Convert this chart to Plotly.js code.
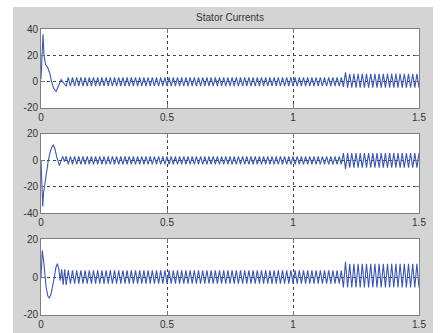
<!DOCTYPE html>
<html>
<head>
<meta charset="utf-8">
<script src="https://cdn.plot.ly/plotly-3.0.1.min.js"></script>
<style>
  html, body { margin: 0; padding: 0; background: #ffffff; width: 445px; height: 333px; overflow: hidden; }
  #chart { position: absolute; left: 13px; top: 7px; width: 420px; height: 326px; }
</style>
</head>
<body>
<div id="chart"></div>
<script>
// ---- Data (time in s, current values) ----
var chartTitle = "Stator Currents";
var xTickVals = [0, 0.5, 1, 1.5];
var xTickText = ["0", "0.5", "1", "1.5"];
var yTicksA = [-20, 0, 20, 40];
var yTicksB = [-40, -20, 0, 20];
var yTicksC = [-20, 0, 20];

// start-up transients (times of the turning points and their values)
var tTransA = [0, 0.004, 0.008, 0.012, 0.018, 0.026, 0.034, 0.042, 0.050, 0.060, 0.070, 0.080, 0.090, 0.100];
var iTransA = [2, 25, 36, 20, 13, 11, 7, 0, -5, -7.5, -3, 1.5, -1, -3.5];

var tTransB = [0, 0.003, 0.007, 0.010, 0.015, 0.022, 0.029, 0.036, 0.043, 0.049, 0.055, 0.062, 0.068, 0.073, 0.080, 0.086, 0.093, 0.100];
var iTransB = [0, -22, -35, -25, -18, -10, 0, 6, 10, 11.5, 9, 3, -2, -4, 0, 3, -1, 3];

var tTransC = [0, 0.002, 0.005, 0.010, 0.015, 0.020, 0.027, 0.033, 0.040, 0.047, 0.053, 0.059, 0.065, 0.071, 0.076, 0.082, 0.088, 0.094, 0.100];
var iTransC = [0, 12, 14, 9, 2, -5, -10, -11, -9, -5, 0, 5, 7, 4, -2, 4, -4, 4, -4];

// steady state: 60 Hz, one turning point every half cycle from t = 0.1 s
var steadyStart = 0.1;
var halfCycle = 1 / 120;

var iSteadyA = [
  -3.5,3.3,-3.3,3.3,-3.3,3.3,-3.3,3.3,-3.3,3.3,-3.3,3.3,
  -3.3,3.3,-3.3,3.3,-3.3,3.3,-3.3,3.3,-3.3,3.3,-3.3,3.3,
  -3.3,3.3,-3.3,3.3,-3.3,3.3,-3.3,3.3,-3.3,3.3,-3.3,3.3,
  -3.3,3.3,-3.3,3.3,-3.3,3.3,-3.3,3.3,-3.3,3.3,-3.3,3.3,
  -3.3,3.3,-3.3,3.3,-3.3,3.3,-3.3,3.3,-3.3,3.3,-3.3,3.3,
  -3.3,3.3,-3.3,3.3,-3.3,3.3,-3.3,3.3,-3.3,3.3,-3.3,3.3,
  -3.3,3.3,-3.3,3.3,-3.3,3.3,-3.3,3.3,-3.3,3.3,-3.3,3.3,
  -3.3,3.3,-3.3,3.3,-3.3,3.3,-3.3,3.3,-3.3,3.3,-3.3,3.3,
  -3.3,3.3,-3.3,3.3,-3.3,3.3,-3.3,3.3,-3.3,3.3,-3.3,3.3,
  -3.3,3.3,-3.3,3.3,-3.3,3.3,-3.3,3.3,-3.3,3.3,-3.3,3.3,
  -3.3,3.3,-3.3,3.3,-3.3,3.3,-3.3,3.3,-3.3,3.3,-3.3,3.3,
  -4,7,-4.5,6,-4.5,6,-4.5,6,-4.5,6,-4.5,6,
  -4.5,6,-4.5,6,-4.5,6,-4.5,6,-4.5,6,-4.5,6,
  -4.5,6,-4.5,6,-4.5,6,-4.5,6,-4.5,6,-4.5,6,
  -4.5
];

var iSteadyB = [
  3,-3,3,-3,3,-3,3,-3,3,-3,3,-3,
  3,-3,3,-3,3,-3,3,-3,3,-3,3,-3,
  3,-3,3,-3,3,-3,3,-3,3,-3,3,-3,
  3,-3,3,-3,3,-3,3,-3,3,-3,3,-3,
  3,-3,3,-3,3,-3,3,-3,3,-3,3,-3,
  3,-3,3,-3,3,-3,3,-3,3,-3,3,-3,
  3,-3,3,-3,3,-3,3,-3,3,-3,3,-3,
  3,-3,3,-3,3,-3,3,-3,3,-3,3,-3,
  3,-3,3,-3,3,-3,3,-3,3,-3,3,-3,
  3,-3,3,-3,3,-3,3,-3,3,-3,3,-3,
  3,-3,3,-3,3,-3,3,-3,3,-3,3,-3,
  5.5,-6.5,5.5,-5.5,5.5,-5.5,5.5,-5.5,5.5,-5.5,5.5,-5.5,
  5.5,-5.5,5.5,-5.5,5.5,-5.5,5.5,-5.5,5.5,-5.5,5.5,-5.5,
  5.5,-5.5,5.5,-5.5,5.5,-5.5,5.5,-5.5,5.5,-5.5,5.5,-5.5,
  5.5
];

var iSteadyC = [
  -4,3.5,-3.5,3.5,-3.5,3.5,-3.5,3.5,-3.5,3.5,-3.5,3.5,
  -3.5,3.5,-3.5,3.5,-3.5,3.5,-3.5,3.5,-3.5,3.5,-3.5,3.5,
  -3.5,3.5,-3.5,3.5,-3.5,3.5,-3.5,3.5,-3.5,3.5,-3.5,3.5,
  -3.5,3.5,-3.5,3.5,-3.5,3.5,-3.5,3.5,-3.5,3.5,-3.5,3.5,
  -3.5,3.5,-3.5,3.5,-3.5,3.5,-3.5,3.5,-3.5,3.5,-3.5,3.5,
  -3.5,3.5,-3.5,3.5,-3.5,3.5,-3.5,3.5,-3.5,3.5,-3.5,3.5,
  -3.5,3.5,-3.5,3.5,-3.5,3.5,-3.5,3.5,-3.5,3.5,-3.5,3.5,
  -3.5,3.5,-3.5,3.5,-3.5,3.5,-3.5,3.5,-3.5,3.5,-3.5,3.5,
  -3.5,3.5,-3.5,3.5,-3.5,3.5,-3.5,3.5,-3.5,3.5,-3.5,3.5,
  -3.5,3.5,-3.5,3.5,-3.5,3.5,-3.5,3.5,-3.5,3.5,-3.5,3.5,
  -3.5,3.5,-3.5,3.5,-3.5,3.5,-3.5,3.5,-3.5,3.5,-3.5,3.5,
  -5.5,8,-5.5,7,-5.5,7,-5.5,7,-5.5,7,-5.5,7,
  -5.5,7,-5.5,7,-5.5,7,-5.5,7,-5.5,7,-5.5,7,
  -5.5,7,-5.5,7,-5.5,7,-5.5,7,-5.5,7,-5.5,7,
  -5.5
];

// ---- Build traces ----
var lineColor = "#3d58a8";
var lineStyle = { color: lineColor, width: 1.1 };
function trans(t, v, xa, ya) {
  return { type: "scatter", mode: "lines", x: t, y: v, xaxis: xa, yaxis: ya,
           line: lineStyle, hoverinfo: "skip", showlegend: false };
}
function steady(v, xa, ya) {
  return { type: "scatter", mode: "lines", x0: steadyStart, dx: halfCycle, y: v,
           xaxis: xa, yaxis: ya, line: lineStyle, hoverinfo: "skip", showlegend: false };
}
var traces = [
  trans(tTransA, iTransA, "x", "y"),   steady(iSteadyA, "x", "y"),
  trans(tTransB, iTransB, "x2", "y2"), steady(iSteadyB, "x2", "y2"),
  trans(tTransC, iTransC, "x3", "y3"), steady(iSteadyC, "x3", "y3")
];

var tickFont = { family: "Liberation Sans, Arial, sans-serif", size: 10, color: "#333333" };
function xax(anchor) {
  return {
    anchor: anchor, domain: [0, 1], range: [0, 1.5],
    tickmode: "array", tickvals: xTickVals, ticktext: xTickText,
    ticks: "inside", ticklen: 4, tickcolor: "#777777",
    showgrid: true, gridcolor: "#444444", griddash: "dot", gridwidth: 1,
    showline: true, mirror: "ticks", linecolor: "#7f7f7f", linewidth: 1,
    zeroline: false, tickfont: tickFont, fixedrange: true
  };
}
function yax(anchor, dom, rng, tv) {
  return {
    anchor: anchor, domain: dom, range: rng,
    tickmode: "array", tickvals: tv, ticktext: tv.map(String),
    ticks: "inside", ticklen: 4, tickcolor: "#777777",
    showgrid: true, gridcolor: "#444444", griddash: "dot", gridwidth: 1,
    showline: true, mirror: "ticks", linecolor: "#7f7f7f", linewidth: 1,
    zeroline: false, tickfont: tickFont, fixedrange: true
  };
}

var layout = {
  width: 420, height: 326,
  margin: { l: 28, r: 14, t: 22, b: 18 },
  paper_bgcolor: "#d4d4d4",
  plot_bgcolor: "#ffffff",
  title: {
    text: chartTitle,
    font: { family: "Liberation Sans, Arial, sans-serif", size: 10, color: "#333333" },
    x: 0.5, xref: "paper", xanchor: "center",
    y: 0.968, yref: "container", yanchor: "middle"
  },
  xaxis: xax("y"),
  xaxis2: xax("y2"),
  xaxis3: xax("y3"),
  yaxis: yax("x", [0.7238, 1], [-20, 40], yTicksA),
  yaxis2: yax("x2", [0.3566, 0.6329], [-40, 20], yTicksB),
  yaxis3: yax("x3", [0, 0.2657], [-20, 20], yTicksC),
  showlegend: false
};

Plotly.newPlot("chart", traces, layout, { staticPlot: true, displayModeBar: false });
</script>
</body>
</html>
